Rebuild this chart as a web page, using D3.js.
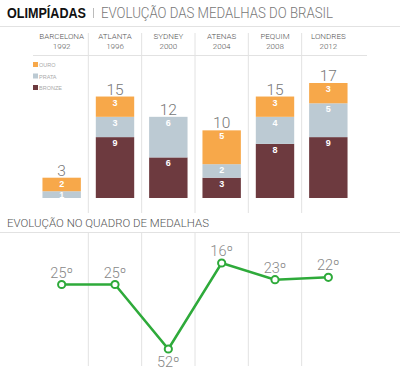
<!DOCTYPE html>
<html>
<head>
<meta charset="utf-8">
<script src="https://cdn.jsdelivr.net/npm/d3@7"></script>
<style>
  body { margin: 0; background: #fff; }
  text { font-family: "Liberation Sans", Arial, sans-serif; }
  .light { font-family: Roboto, "Liberation Sans", sans-serif; font-weight: 300; }
</style>
</head>
<body>
<div id="chart"></div>
<script>
// Data
const cities = ["BARCELONA", "ATLANTA", "SYDNEY", "ATENAS", "PEQUIM", "LONDRES"];
const years = ["1992", "1996", "2000", "2004", "2008", "2012"];
const bronze = [0, 9, 6, 3, 8, 9];
const prata = [1, 3, 6, 2, 4, 5];
const ouro = [2, 3, 0, 5, 3, 3];
const ranking = [25, 25, 52, 16, 23, 22];
const medalTypes = ["OURO", "PRATA", "BRONZE"];

const colors = { OURO: "#f7a84a", PRATA: "#bccad3", BRONZE: "#6d3a3f" };

const W = 400, H = 386;

const svg = d3.select("#chart")
  .append("svg")
  .attr("width", W)
  .attr("height", H);

// Title
svg.append("text")
  .attr("x", 7)
  .attr("y", 18)
  .attr("font-size", 14.5)
  .attr("font-weight", "bold")
  .attr("fill", "#111")
  .attr("textLength", 79)
  .attr("lengthAdjust", "spacingAndGlyphs")
  .text("OLIMPÍADAS");
svg.append("line")
  .attr("x1", 93.5).attr("x2", 93.5)
  .attr("y1", 8).attr("y2", 18)
  .attr("stroke", "#bbb");
svg.append("text")
  .attr("class", "light")
  .attr("x", 101)
  .attr("y", 18)
  .attr("font-size", 14.5)
  .attr("fill", "#777")
  .attr("textLength", 232)
  .attr("lengthAdjust", "spacingAndGlyphs")
  .text("EVOLUÇÃO DAS MEDALHAS DO BRASIL");

svg.append("line")
  .attr("x1", 0).attr("x2", W)
  .attr("y1", 26.5).attr("y2", 26.5)
  .attr("stroke", "#e2e2e2");

// Column scale
const x = d3.scaleBand()
  .domain(years)
  .range([35, 355])
  .paddingInner(0.28)
  .paddingOuter(0.14);
const step = x.step();
const colCenter = d => x(d) + x.bandwidth() / 2;

// Vertical dividers between columns
const dividers = years.slice(1).map(y => x(y) - step * x.paddingInner() / 2);
svg.selectAll(".div-top")
  .data(dividers)
  .enter()
  .append("line")
  .attr("x1", d => d).attr("x2", d => d)
  .attr("y1", 33).attr("y2", 213)
  .attr("stroke", "#e2e2e2");
svg.selectAll(".div-bot")
  .data(dividers)
  .enter()
  .append("line")
  .attr("x1", d => d).attr("x2", d => d)
  .attr("y1", 232).attr("y2", 366)
  .attr("stroke", "#e2e2e2");

// Column headers
const headers = svg.selectAll(".hdr")
  .data(years)
  .enter()
  .append("text")
  .attr("class", "light")
  .attr("text-anchor", "middle")
  .attr("font-size", 8)
  .attr("fill", "#555");
headers.append("tspan")
  .attr("x", d => colCenter(d))
  .attr("y", 39)
  .text((d, i) => cities[i]);
headers.append("tspan")
  .attr("x", d => colCenter(d))
  .attr("y", 49)
  .text(d => d);

svg.append("line")
  .attr("x1", 33).attr("x2", 367)
  .attr("y1", 55.5).attr("y2", 55.5)
  .attr("stroke", "#e2e2e2");

// Legend
const legend = svg.selectAll(".leg")
  .data(medalTypes)
  .enter()
  .append("g")
  .attr("transform", (d, i) => `translate(33, ${62 + i * 11.5})`);
legend.append("rect")
  .attr("width", 5).attr("height", 5)
  .attr("fill", d => colors[d]);
legend.append("text")
  .attr("x", 6)
  .attr("y", 5)
  .attr("font-size", 5.5)
  .attr("fill", "#aaa")
  .text(d => d);

// Stacked bars
const table = years.map((y, i) => ({ year: y, BRONZE: bronze[i], PRATA: prata[i], OURO: ouro[i] }));
const stack = d3.stack().keys(["BRONZE", "PRATA", "OURO"]);
const series = stack(table);

const yBar = d3.scaleLinear()
  .domain([0, 17])
  .range([198, 83]);

const layers = svg.selectAll(".layer")
  .data(series)
  .enter()
  .append("g")
  .attr("fill", d => colors[d.key]);

layers.selectAll("rect")
  .data(d => d.filter(s => s[1] > s[0]))
  .enter()
  .append("rect")
  .attr("x", d => x(d.data.year))
  .attr("y", d => yBar(d[1]))
  .attr("width", x.bandwidth())
  .attr("height", d => yBar(d[0]) - yBar(d[1]));

layers.selectAll("text")
  .data(d => d.filter(s => s[1] > s[0]))
  .enter()
  .append("text")
  .attr("x", d => colCenter(d.data.year))
  .attr("y", d => Math.min(yBar(d[1]) + 9, yBar(d[0])))
  .attr("text-anchor", "middle")
  .attr("font-size", 9)
  .attr("font-weight", "bold")
  .attr("fill", "#fff")
  .text(d => d[1] - d[0]);

// Totals
svg.selectAll(".total")
  .data(table)
  .enter()
  .append("text")
  .attr("class", "light")
  .attr("x", d => colCenter(d.year))
  .attr("y", d => yBar(d.BRONZE + d.PRATA + d.OURO) - 2)
  .attr("text-anchor", "middle")
  .attr("font-size", 15.5)
  .attr("fill", "#777")
  .text(d => d.BRONZE + d.PRATA + d.OURO);

// Second section
svg.append("text")
  .attr("class", "light")
  .attr("x", 7)
  .attr("y", 227)
  .attr("font-size", 10.5)
  .attr("fill", "#555")
  .attr("textLength", 202)
  .attr("lengthAdjust", "spacingAndGlyphs")
  .text("EVOLUÇÃO NO QUADRO DE MEDALHAS");

svg.append("line")
  .attr("x1", 0).attr("x2", W)
  .attr("y1", 232.5).attr("y2", 232.5)
  .attr("stroke", "#e2e2e2");

// Ranking line chart
const yRank = d3.scaleLinear()
  .domain([16, 52])
  .range([263, 349]);

const line = d3.line()
  .x((d, i) => colCenter(years[i]))
  .y(d => yRank(d));

svg.append("path")
  .datum(ranking)
  .attr("d", line)
  .attr("fill", "none")
  .attr("stroke", "#2eaa3a")
  .attr("stroke-width", 2.5);

svg.selectAll(".pt")
  .data(ranking)
  .enter()
  .append("circle")
  .attr("cx", (d, i) => colCenter(years[i]))
  .attr("cy", d => yRank(d))
  .attr("r", 3.6)
  .attr("fill", "#fff")
  .attr("stroke", "#2eaa3a")
  .attr("stroke-width", 2);

const maxRank = d3.max(ranking);
svg.selectAll(".rk")
  .data(ranking)
  .enter()
  .append("text")
  .attr("class", "light")
  .attr("x", (d, i) => colCenter(years[i]))
  .attr("y", d => d === maxRank ? yRank(d) + 18 : yRank(d) - 7)
  .attr("text-anchor", "middle")
  .attr("font-size", 14.5)
  .attr("fill", "#888")
  .text(d => d + "º");
</script>
</body>
</html>
